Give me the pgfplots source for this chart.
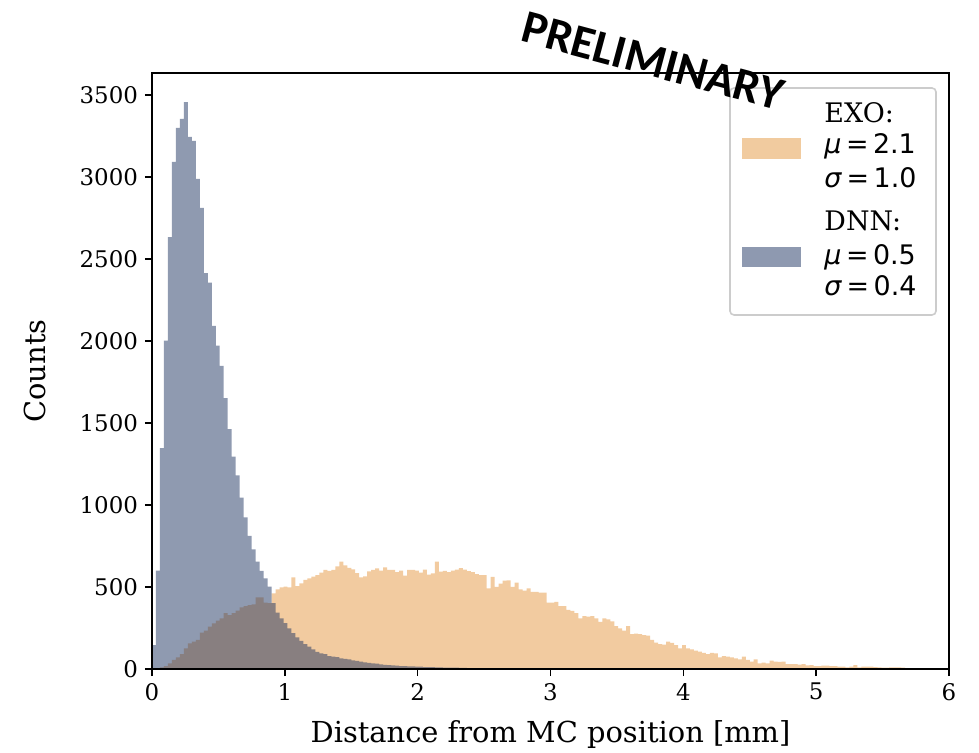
\documentclass[border=0pt]{standalone}
\usepackage{fontspec}
\setmainfont{DejaVu Serif}
\newfontfamily\dvs{DejaVu Sans}
\newfontfamily\prelim{Carlito}
\usepackage{pgfplots}
\usepackage{pgfplotstable}
\pgfplotsset{compat=1.18}
\definecolor{exoc}{RGB}{229,151,65}
\definecolor{dnnc}{RGB}{31,53,97}
\pgfplotstableread[row sep=\\]{
x y\\
0 0\\ 0.03 4\\ 0.06 10\\ 0.09 18\\ 0.12 35\\ 0.15 55\\ 0.18 71\\ 0.21 91\\ 0.24 126\\ 0.27 157\\
0.30 167\\ 0.33 177\\ 0.36 222\\ 0.39 234\\ 0.42 258\\ 0.45 278\\ 0.48 295\\ 0.51 309\\ 0.54 340\\ 0.57 329\\
0.60 340\\ 0.63 356\\ 0.66 376\\ 0.69 384\\ 0.72 390\\ 0.75 394\\ 0.78 437\\ 0.81 437\\ 0.84 404\\ 0.87 401\\
0.90 461\\ 0.93 486\\ 0.96 498\\ 0.99 502\\ 1.02 498\\ 1.05 559\\ 1.08 506\\ 1.11 522\\ 1.14 543\\ 1.17 553\\
1.20 563\\ 1.23 573\\ 1.26 587\\ 1.29 604\\ 1.32 598\\ 1.35 605\\ 1.38 625\\ 1.41 654\\ 1.44 632\\ 1.47 617\\
1.50 608\\ 1.53 585\\ 1.56 558\\ 1.59 565\\ 1.62 595\\ 1.65 604\\ 1.68 614\\ 1.71 600\\ 1.74 620\\ 1.77 604\\
1.80 605\\ 1.83 590\\ 1.86 600\\ 1.89 570\\ 1.92 605\\ 1.95 605\\ 1.98 600\\ 2.01 587\\ 2.04 606\\ 2.07 575\\
2.10 583\\ 2.13 654\\ 2.16 593\\ 2.19 598\\ 2.22 590\\ 2.25 600\\ 2.28 606\\ 2.31 615\\ 2.34 606\\ 2.37 597\\
2.40 590\\ 2.43 579\\ 2.46 573\\ 2.49 573\\ 2.52 492\\ 2.55 561\\ 2.58 500\\ 2.61 520\\ 2.64 539\\ 2.67 540\\
2.70 500\\ 2.73 526\\ 2.76 486\\ 2.79 478\\ 2.82 492\\ 2.85 471\\ 2.88 471\\ 2.91 465\\ 2.94 465\\ 2.97 404\\
3.00 404\\ 3.03 410\\ 3.06 384\\ 3.09 384\\ 3.12 360\\ 3.15 355\\ 3.18 340\\ 3.21 309\\ 3.24 323\\ 3.27 319\\
3.30 323\\ 3.33 309\\ 3.36 288\\ 3.39 309\\ 3.42 303\\ 3.45 290\\ 3.48 262\\ 3.51 248\\ 3.54 234\\ 3.57 262\\
3.60 213\\ 3.63 216\\ 3.66 213\\ 3.69 207\\ 3.72 203\\ 3.75 177\\ 3.78 161\\ 3.81 152\\ 3.84 148\\ 3.87 167\\
3.90 160\\ 3.93 145\\ 3.96 126\\ 3.99 146\\ 4.02 126\\ 4.05 120\\ 4.08 112\\ 4.11 106\\ 4.14 99\\ 4.17 91\\
4.20 99\\ 4.23 96\\ 4.26 71\\ 4.29 79\\ 4.32 75\\ 4.35 71\\ 4.38 65\\ 4.41 59\\ 4.44 75\\ 4.47 55\\
4.50 45\\ 4.53 59\\ 4.56 35\\ 4.59 39\\ 4.62 35\\ 4.65 51\\ 4.68 45\\ 4.71 43\\ 4.74 45\\ 4.77 30\\
4.80 30\\ 4.83 30\\ 4.86 26\\ 4.89 30\\ 4.92 22\\ 4.95 24\\ 4.98 18\\ 5.01 18\\ 5.04 20\\ 5.07 20\\
5.10 18\\ 5.13 18\\ 5.16 14\\ 5.19 14\\ 5.22 10\\ 5.25 14\\ 5.28 24\\ 5.31 10\\ 5.34 14\\ 5.37 14\\
5.40 14\\ 5.43 12\\ 5.46 10\\ 5.49 8\\ 5.52 8\\ 5.55 10\\ 5.58 10\\ 5.61 10\\ 5.64 8\\ 5.67 6\\
5.70 6\\ 5.73 6\\ 5.76 4\\ 5.79 4\\ 5.82 4\\ 5.85 2\\ 5.88 2\\ 5.91 2\\ 5.94 2\\ 5.97 1\\ 6.00 1\\
}\exotable
\pgfplotstableread[row sep=\\]{
x y\\
0 146\\ 0.03 600\\ 0.06 1347\\ 0.09 2002\\ 0.12 2634\\ 0.15 3092\\ 0.18 3299\\ 0.21 3354\\ 0.24 3457\\ 0.27 3244\\
0.30 3220\\ 0.33 2988\\ 0.36 2811\\ 0.39 2413\\ 0.42 2356\\ 0.45 2092\\ 0.48 1971\\ 0.51 1848\\ 0.54 1651\\ 0.57 1463\\
0.60 1295\\ 0.63 1180\\ 0.66 1045\\ 0.69 925\\ 0.72 811\\ 0.75 730\\ 0.78 654\\ 0.81 598\\ 0.84 553\\ 0.87 502\\
0.90 401\\ 0.93 343\\ 0.96 309\\ 0.99 279\\ 1.02 248\\ 1.05 218\\ 1.08 193\\ 1.11 171\\ 1.14 152\\ 1.17 136\\
1.20 120\\ 1.23 104\\ 1.26 96\\ 1.29 90\\ 1.32 79\\ 1.35 75\\ 1.38 72\\ 1.41 65\\ 1.44 61\\ 1.47 58\\
1.50 53\\ 1.53 50\\ 1.56 45\\ 1.59 40\\ 1.62 37\\ 1.65 35\\ 1.68 33\\ 1.71 28\\ 1.74 25\\ 1.77 23\\
1.80 22\\ 1.83 20\\ 1.86 18\\ 1.89 17\\ 1.92 16\\ 1.95 16\\ 1.98 15\\ 2.01 14\\ 2.04 12\\ 2.07 12\\
2.10 11\\ 2.13 10\\ 2.16 10\\ 2.19 9\\ 2.22 9\\ 2.25 8\\ 2.28 8\\ 2.31 7\\ 2.34 7\\ 2.37 6\\
2.40 6\\ 2.43 5\\ 2.46 5\\ 2.49 5\\ 2.52 4\\ 2.55 4\\ 2.58 3\\ 2.61 3\\ 2.64 3\\ 2.67 3\\
2.70 2\\ 2.73 2\\ 2.76 2\\ 2.79 2\\ 2.82 2\\ 2.85 1\\ 2.88 1\\ 2.91 1\\ 2.94 1\\ 2.97 1\\
3.00 1\\ 3.03 1\\ 3.06 1\\ 3.09 1\\ 3.12 1\\ 3.15 0\\
}\dnntable
\newcommand{\fs}{\fontsize{13.5}{16}\selectfont}
\newcommand{\fst}{\fontsize{11.5}{14}\selectfont}
\newcommand{\fsl}{\fontsize{14.5}{17}\selectfont}
\begin{document}
\begin{tikzpicture}
\useasboundingbox (-76bp,-42bp) rectangle (413.5bp,334.5bp);
\begin{axis}[
  at={(0,0)}, anchor=south west,
  scale only axis, width=398.5bp, height=298bp,
  xmin=0, xmax=6, ymin=0, ymax=3634,
  xtick={0,1,2,3,4,5,6}, ytick={0,500,1000,1500,2000,2500,3000,3500},
  xtick pos=bottom, ytick pos=left,
  tick align=outside, major tick length=3.5bp,
  tick style={black, line width=0.8bp},
  axis line style={line width=0.8bp},
  scaled y ticks=false,
  /pgf/number format/assume math mode=true,
  /pgf/number format/1000 sep={},
  ticklabel style={font=\fst},
  axis on top,
  every axis y label/.style={at={(axis description cs:-0.1468,0.5)}, anchor=center, rotate=90, font=\fsl},
  every axis x label/.style={at={(axis description cs:0.5,-0.1107)}, anchor=center, font=\fsl},
  xlabel={Distance from MC position [mm]},
  ylabel={Counts},
  clip=false,
]
\addplot[const plot mark left, draw=none, fill=exoc, fill opacity=0.5] table[x=x,y=y] {\exotable} \closedcycle;
\addplot[const plot mark left, draw=none, fill=dnnc, fill opacity=0.5] table[x=x,y=y] {\dnntable} \closedcycle;
% legend
\draw[rounded corners=2bp, draw=black!20, fill=white, fill opacity=0.8, line width=0.8bp]
  (axis description cs:0.7252,0.5940) rectangle (axis description cs:0.9837,0.9748);
\fill[exoc, opacity=0.5] (axis description cs:0.7403,0.8557) rectangle (axis description cs:0.8143,0.8909);
\fill[dnnc, opacity=0.5] (axis description cs:0.7403,0.6745) rectangle (axis description cs:0.8143,0.7081);
\node[anchor=base west, inner sep=0, font=\fs] at (axis description cs:0.8432,0.9166) {EXO:};
\node[anchor=base west, inner sep=0, font=\fs] at (axis description cs:0.8432,0.8641) {\dvs\textit{μ}\,=\,2.1};
\node[anchor=base west, inner sep=0, font=\fs] at (axis description cs:0.8432,0.8082) {\dvs\textit{σ}\,=\,1.0};
\node[anchor=base west, inner sep=0, font=\fs] at (axis description cs:0.8432,0.7354) {DNN:};
\node[anchor=base west, inner sep=0, font=\fs] at (axis description cs:0.8432,0.6795) {\dvs\textit{μ}\,=\,0.5};
\node[anchor=base west, inner sep=0, font=\fs] at (axis description cs:0.8432,0.6264) {\dvs\textit{σ}\,=\,0.4};
\node[rotate=-15, inner sep=0, font=\prelim\bfseries\fontsize{23.5}{26}\selectfont] at (axis description cs:0.6286,1.0201) {PRELIMINARY};
\end{axis}
\end{tikzpicture}
\end{document}
